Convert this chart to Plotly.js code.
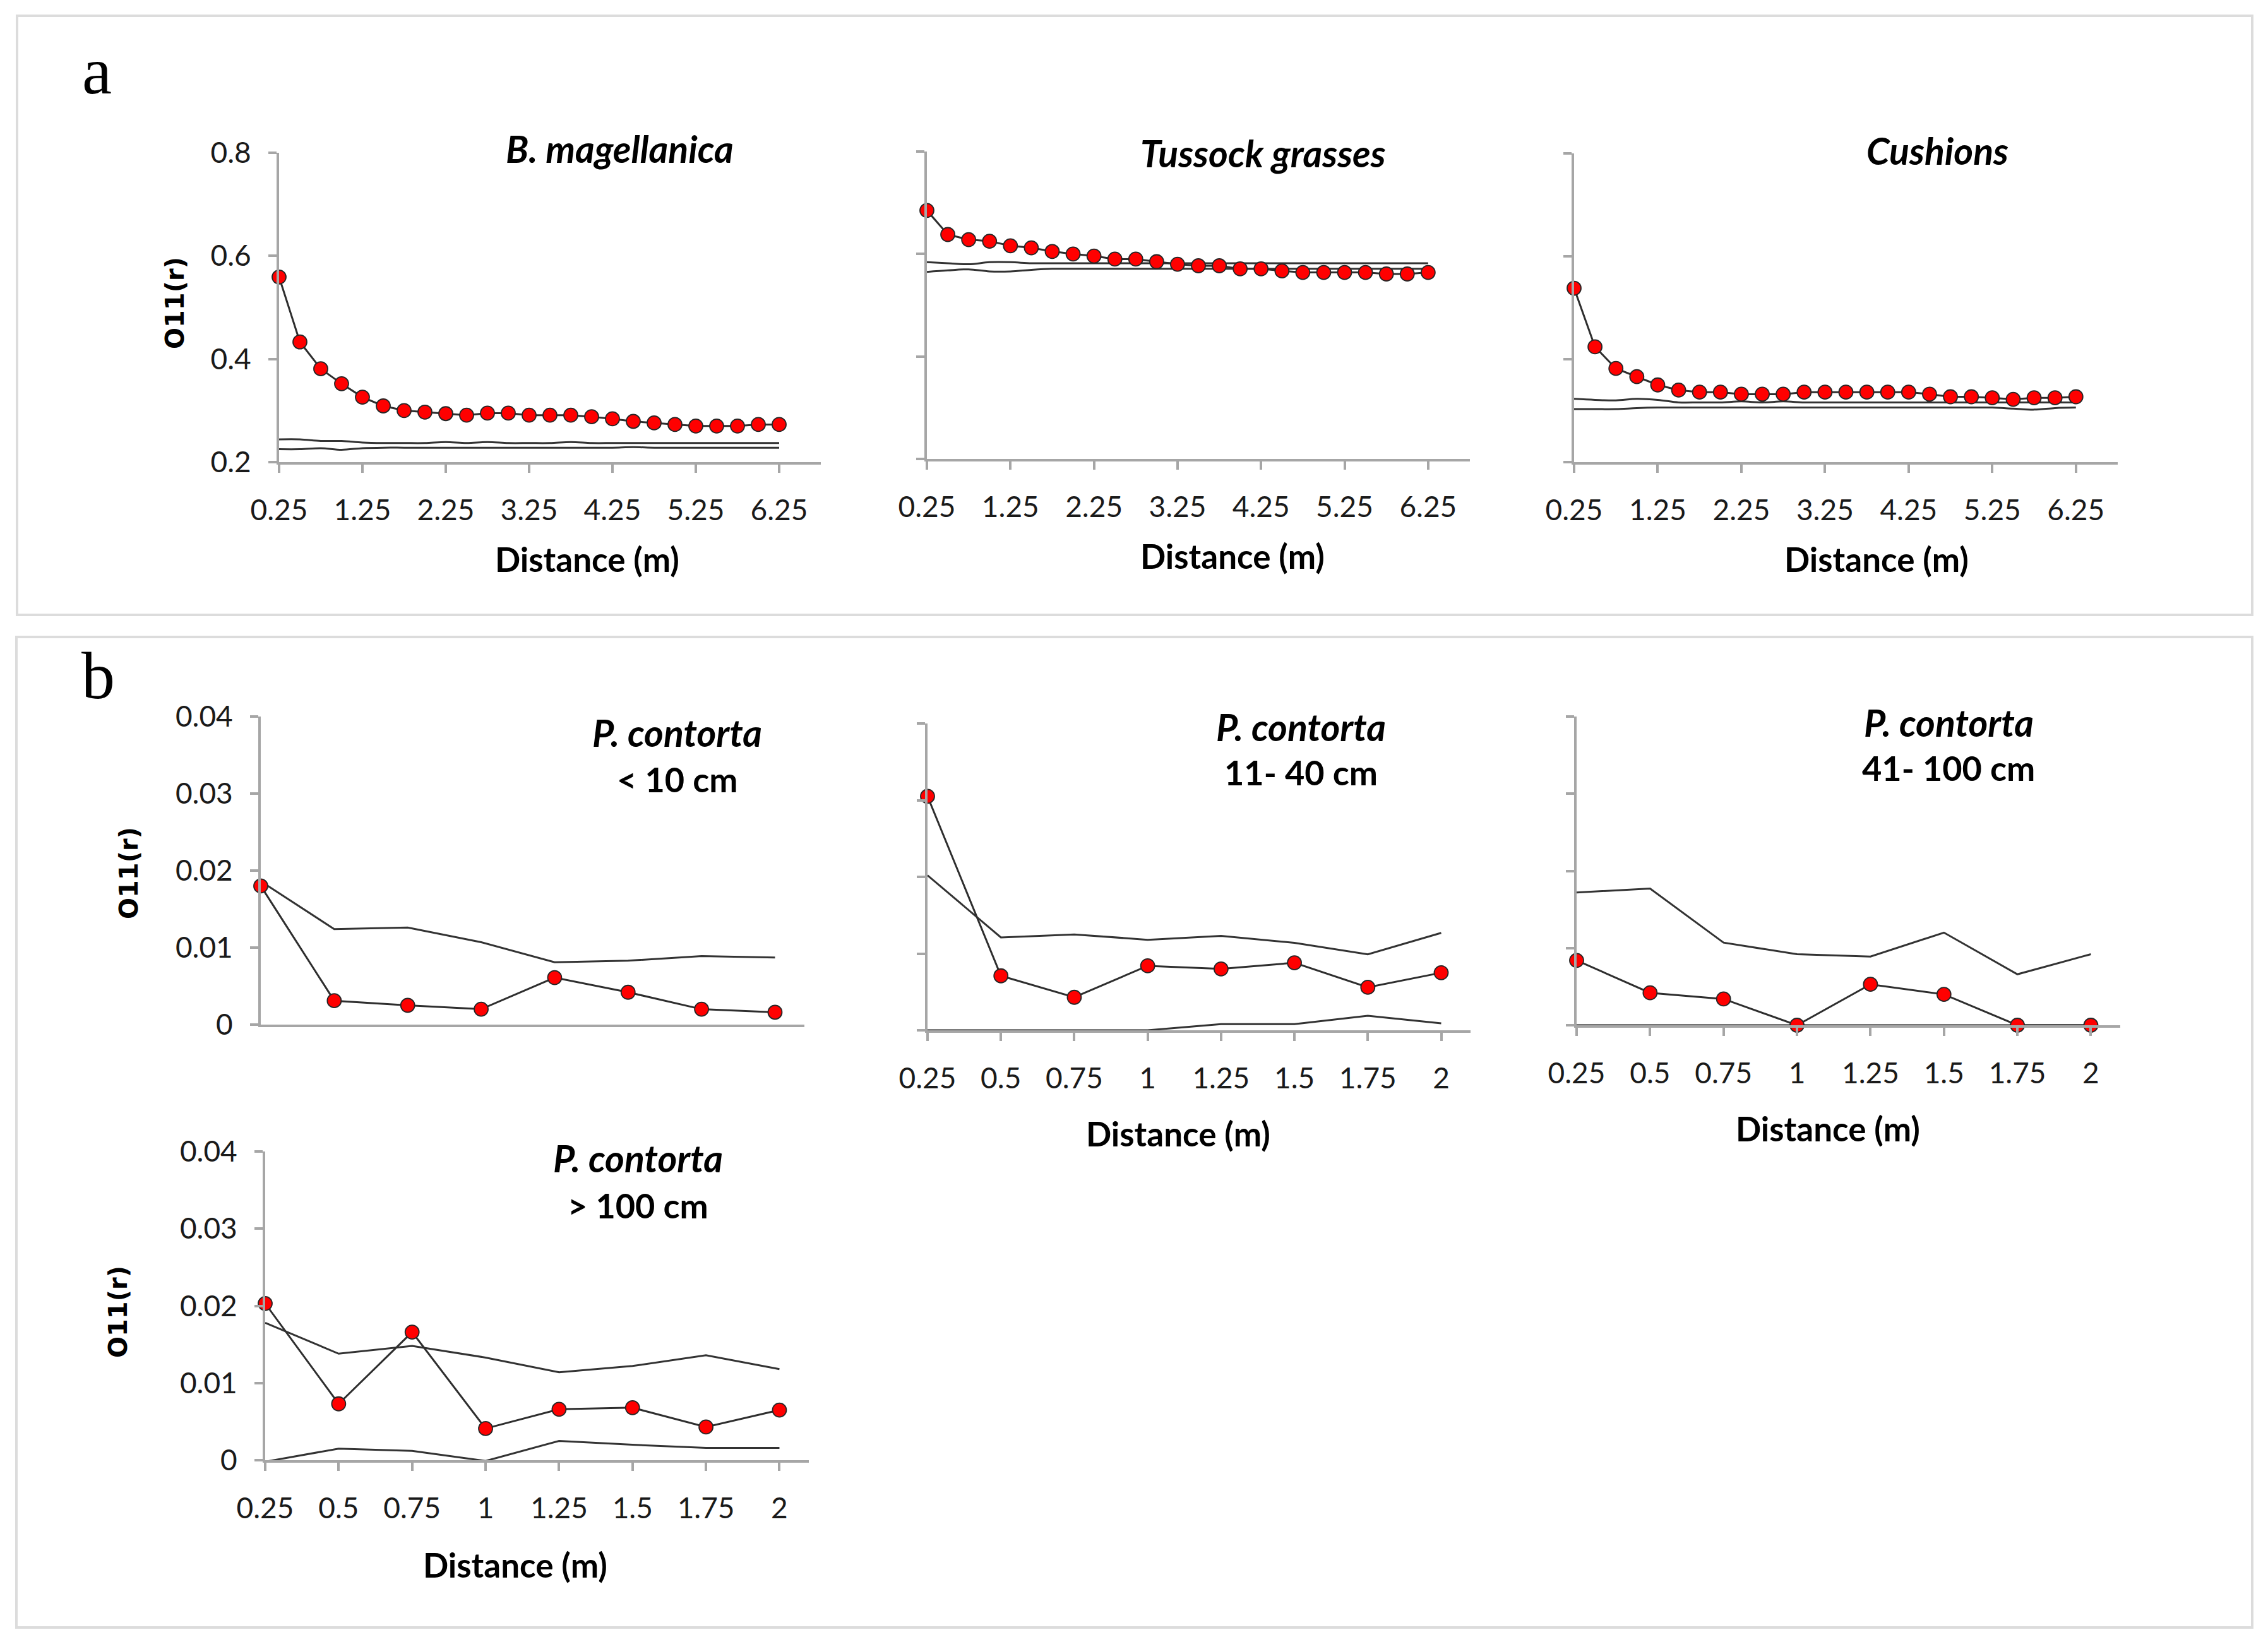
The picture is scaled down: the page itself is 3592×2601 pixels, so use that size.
<!DOCTYPE html>
<html>
<head>
<meta charset="utf-8">
<script src="https://cdn.plot.ly/plotly-3.0.1.min.js"></script>
<style>html,body{margin:0;padding:0;background:#fff;}#chart{width:3592px;height:2601px;}</style>
</head>
<body>
<div id="chart"></div>
<script>
// ---------- DATA ----------
const distA = [0.25,0.5,0.75,1,1.25,1.5,1.75,2,2.25,2.5,2.75,3,3.25,3.5,3.75,4,4.25,4.5,4.75,5,5.25,5.5,5.75,6,6.25];
const distB = [0.25,0.5,0.75,1,1.25,1.5,1.75,2];

const tickValsA = [0.25,1.25,2.25,3.25,4.25,5.25,6.25];
const tickTextA = ['0.25','1.25','2.25','3.25','4.25','5.25','6.25'];
const tickValsB = [0.25,0.5,0.75,1,1.25,1.5,1.75,2];
const tickTextB = ['0.25','0.5','0.75','1','1.25','1.5','1.75','2'];
const yValsA = [0.2,0.4,0.6,0.8];
const yTextA = ['0.2','0.4','0.6','0.8'];
const yValsB = [0,0.01,0.02,0.03,0.04];
const yTextB = ['0','0.01','0.02','0.03','0.04'];

// B. magellanica
const bmagObs = [0.559,0.433,0.381,0.352,0.326,0.309,0.300,0.297,0.294,0.291,0.295,0.295,0.291,0.291,0.291,0.288,0.284,0.279,0.276,0.273,0.270,0.270,0.270,0.273,0.273];
const bmagHi  = [0.244,0.244,0.241,0.241,0.238,0.237,0.237,0.237,0.239,0.237,0.239,0.237,0.237,0.237,0.239,0.237,0.237,0.237,0.237,0.237,0.237,0.237,0.237,0.237,0.237];
const bmagLo  = [0.225,0.225,0.227,0.224,0.227,0.228,0.228,0.228,0.228,0.228,0.228,0.228,0.228,0.228,0.228,0.228,0.228,0.229,0.228,0.228,0.228,0.228,0.228,0.228,0.228];
// Tussock grasses
const tussObs = [0.685,0.638,0.628,0.625,0.616,0.612,0.605,0.600,0.596,0.590,0.590,0.585,0.580,0.577,0.577,0.571,0.571,0.567,0.564,0.564,0.564,0.564,0.561,0.561,0.564];
const tussHi  = [0.584,0.582,0.580,0.584,0.584,0.582,0.582,0.582,0.582,0.582,0.582,0.582,0.582,0.582,0.582,0.582,0.582,0.582,0.582,0.582,0.582,0.582,0.582,0.582,0.582];
const tussLo  = [0.565,0.568,0.570,0.566,0.566,0.569,0.571,0.571,0.571,0.571,0.571,0.571,0.571,0.571,0.571,0.571,0.571,0.571,0.571,0.571,0.571,0.571,0.571,0.571,0.571];
// Cushions
const cushObs = [0.538,0.424,0.382,0.366,0.350,0.340,0.336,0.336,0.332,0.332,0.332,0.336,0.336,0.336,0.336,0.336,0.336,0.332,0.327,0.327,0.325,0.322,0.325,0.325,0.327];
const cushHi  = [0.323,0.321,0.320,0.323,0.321,0.316,0.316,0.316,0.318,0.316,0.318,0.316,0.316,0.316,0.316,0.316,0.316,0.316,0.316,0.316,0.316,0.316,0.316,0.316,0.316];
const cushLo  = [0.303,0.303,0.303,0.305,0.306,0.306,0.306,0.306,0.306,0.306,0.306,0.306,0.306,0.306,0.306,0.306,0.306,0.306,0.306,0.306,0.306,0.304,0.302,0.305,0.306];

// P. contorta < 10 cm
const pc10Obs = [0.0180,0.0031,0.0025,0.0020,0.0061,0.0042,0.0020,0.0016];
const pc10Hi  = [0.0186,0.0124,0.0126,0.0107,0.0081,0.0083,0.0089,0.0087];
// P. contorta 11-40 cm
const pc40Obs = [0.0305,0.0071,0.0043,0.0084,0.0080,0.0088,0.0056,0.0075];
const pc40Hi  = [0.0202,0.0121,0.0125,0.0118,0.0123,0.0114,0.0099,0.0127];
const pc40Lo  = [0,0,0,0,0.0008,0.0008,0.0019,0.0009];
// P. contorta 41-100 cm
const pc100Obs = [0.0084,0.0042,0.0034,0,0.0053,0.0040,0,0];
const pc100Hi  = [0.0172,0.0177,0.0107,0.0092,0.0089,0.0120,0.0066,0.0092];
const pc100Lo  = [0,0,0,0,0,0,0,0];
// P. contorta > 100 cm
const pcBigObs = [0.0203,0.0073,0.0166,0.0041,0.0066,0.0068,0.0043,0.0065];
const pcBigHi  = [0.0178,0.0138,0.0148,0.0133,0.0114,0.0122,0.0136,0.0118];
const pcBigLo  = [-0.0002,0.0015,0.0012,-0.0001,0.0025,0.0020,0.0016,0.0016];

// ---------- LAYOUT HELPERS ----------
const W = 3592, H = 2601;
const px = x => x / W;
const py = y => 1 - y / H;

const AX = '#a6a6a6';
const TXT = '#1a1a1a';
const FONT = 'Lato, "Open Sans", sans-serif';

const traces = [];
function envTrace(x, y, n, smooth) {
  return {x: x, y: y, xaxis: 'x' + n, yaxis: 'y' + n, type: 'scatter', mode: 'lines',
    line: {color: '#333333', width: 3, shape: smooth ? 'spline' : 'linear', smoothing: 1},
    hoverinfo: 'skip', showlegend: false, cliponaxis: false};
}
function obsTrace(x, y, n) {
  return {x: x, y: y, xaxis: 'x' + n, yaxis: 'y' + n, type: 'scatter', mode: 'lines+markers',
    line: {color: '#2e2e2e', width: 3},
    marker: {color: '#ff0000', size: 22, line: {color: '#262626', width: 1.8}},
    showlegend: false, cliponaxis: false};
}

traces.push(envTrace(distA, bmagHi, '', true), envTrace(distA, bmagLo, '', true), obsTrace(distA, bmagObs, ''));
traces.push(envTrace(distA, tussHi, 2, true), envTrace(distA, tussLo, 2, true), obsTrace(distA, tussObs, 2));
traces.push(envTrace(distA, cushHi, 3, true), envTrace(distA, cushLo, 3, true), obsTrace(distA, cushObs, 3));
traces.push(envTrace(distB, pc10Hi, 4, false), obsTrace(distB, pc10Obs, 4));
traces.push(envTrace(distB, pc40Hi, 5, false), envTrace(distB, pc40Lo, 5, false), obsTrace(distB, pc40Obs, 5));
traces.push(envTrace(distB, pc100Hi, 6, false), envTrace(distB, pc100Lo, 6, false), obsTrace(distB, pc100Obs, 6));
traces.push(envTrace(distB, pcBigHi, 7, false), envTrace(distB, pcBigLo, 7, false), obsTrace(distB, pcBigObs, 7));

// plot areas in pixels: [left, right, top, bottom]
const boxes = {
  1: [442, 1300, 242, 732],
  2: [1468, 2328, 240, 727],
  3: [2493, 3354, 243, 732],
  4: [413, 1274, 1135, 1623],
  5: [1469, 2329, 1146, 1632],
  6: [2497, 3358, 1135, 1624],
  7: [420, 1281, 1824, 2313]
};

const layout = {
  width: W, height: H,
  margin: {l: 0, r: 0, t: 0, b: 0},
  paper_bgcolor: '#ffffff', plot_bgcolor: 'rgba(0,0,0,0)',
  showlegend: false,
  font: {family: FONT, color: TXT, size: 46},
  shapes: [], annotations: []
};

function axisBase() {
  return {showline: true, linecolor: AX, linewidth: 4, showgrid: false, zeroline: false,
    ticks: 'outside', ticklen: 13, tickwidth: 4, tickcolor: AX,
    tickfont: {family: FONT, size: 46, color: TXT}, fixedrange: true};
}

for (let i = 1; i <= 7; i++) {
  const b = boxes[i];
  const isA = i <= 3;
  const xa = axisBase();
  xa.domain = [px(b[0]), px(b[1])];
  xa.anchor = 'y' + (i === 1 ? '' : i);
  xa.range = isA ? [0.25, 6.75] : [0.25, 2.1];
  xa.tickmode = 'array';
  xa.tickvals = isA ? tickValsA : tickValsB;
  xa.ticktext = isA ? tickTextA : tickTextB;
  xa.ticklabelstandoff = 20;
  if (i === 4) { xa.ticks = ''; xa.showticklabels = false; }
  const ya = axisBase();
  ya.domain = [py(b[3]), py(b[2])];
  ya.anchor = 'x' + (i === 1 ? '' : i);
  ya.range = isA ? [0.2, 0.8] : [0, 0.04];
  ya.tickmode = 'array';
  ya.tickvals = isA ? yValsA : yValsB;
  ya.ticktext = isA ? yTextA : yTextB;
  ya.ticklabelstandoff = 18;
  ya.showticklabels = (i === 1 || i === 4 || i === 7);
  layout['xaxis' + (i === 1 ? '' : i)] = xa;
  layout['yaxis' + (i === 1 ? '' : i)] = ya;
}

// panel frames
layout.shapes.push(
  {type: 'rect', xref: 'paper', yref: 'paper', x0: px(27), x1: px(3567), y0: py(25), y1: py(974), line: {color: '#dcdcdc', width: 4}, layer: 'below'},
  {type: 'rect', xref: 'paper', yref: 'paper', x0: px(26), x1: px(3567), y0: py(1009), y1: py(2578), line: {color: '#dcdcdc', width: 4}, layer: 'below'}
);

function ann(text, x, y, font, extra) {
  const a = Object.assign({text: text, x: px(x), y: py(y), xref: 'paper', yref: 'paper',
    showarrow: false, xanchor: 'center', yanchor: 'middle', font: font}, extra || {});
  layout.annotations.push(a);
}
const italFont = {family: FONT, size: 59, color: '#000'};
const subFont = {family: FONT, size: 54, color: '#000'};
const distFont = {family: FONT, size: 53, color: '#000'};
const oFont = {family: '"DejaVu Sans", Verdana, sans-serif', size: 40, color: '#000'};
const panelFont = {family: '"Liberation Serif", "DejaVu Serif", serif', size: 106, color: '#000'};

ann('a', 153, 112, panelFont);
ann('b', 155, 1070, panelFont);

ann('<b><i>B. magellanica</i></b>', 982, 236, italFont);
ann('<b><i>Tussock grasses</i></b>', 2000, 243, italFont);
ann('<b><i>Cushions</i></b>', 3068, 238, italFont);

ann('<b><i>P. contorta</i></b>', 1072, 1160, italFont);
ann('<b>&lt; 10 cm</b>', 1072, 1234, subFont);
ann('<b><i>P. contorta</i></b>', 2060, 1151, italFont);
ann('<b>11- 40 cm</b>', 2060, 1223, subFont);
ann('<b><i>P. contorta</i></b>', 3086, 1144, italFont);
ann('<b>41- 100 cm</b>', 3086, 1216, subFont);
ann('<b><i>P. contorta</i></b>', 1010, 1834, italFont);
ann('<b>&gt; 100 cm</b>', 1010, 1909, subFont);

ann('<b>Distance (m)</b>', 930, 886, distFont);
ann('<b>Distance (m)</b>', 1952, 880, distFont);
ann('<b>Distance (m)</b>', 2972, 886, distFont);
ann('<b>Distance (m)</b>', 1866, 1795, distFont);
ann('<b>Distance (m)</b>', 2895, 1788, distFont);
ann('<b>Distance (m)</b>', 816, 2478, distFont);

ann('<b>O11(r)</b>', 277, 480, oFont, {textangle: -90});
ann('<b>O11(r)</b>', 204, 1383, oFont, {textangle: -90});
ann('<b>O11(r)</b>', 187, 2078, oFont, {textangle: -90});

Plotly.newPlot('chart', traces, layout, {staticPlot: true, displayModeBar: false});
</script>
</body>
</html>
